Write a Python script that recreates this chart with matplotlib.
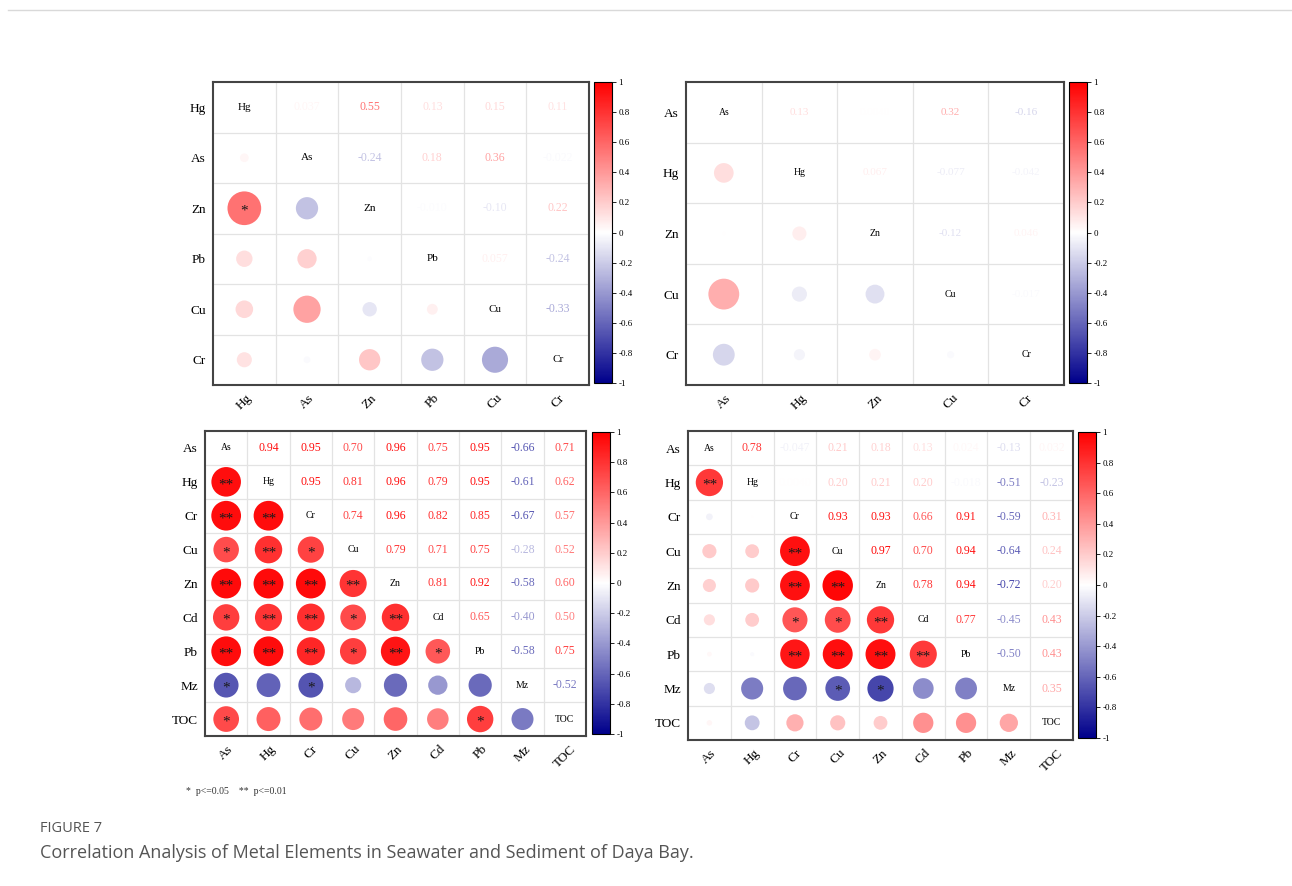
import numpy as np
import matplotlib
matplotlib.use('Agg')
import matplotlib.pyplot as plt
from matplotlib.colors import LinearSegmentedColormap, Normalize
from matplotlib.lines import Line2D

W, H = 1292, 886

# seawater (top-left): upper triangle, row by row
sw1_labels = ['Hg', 'As', 'Zn', 'Pb', 'Cu', 'Cr']
sw1_upper = [0.037, 0.55, 0.13, 0.15, 0.11,
             -0.24, 0.18, 0.36, -0.022,
             -0.010, -0.10, 0.22,
             0.057, -0.24,
             -0.33]
sw1_stars = {('Zn', 'Hg'): '*'}

# seawater (top-right)
sw2_labels = ['As', 'Hg', 'Zn', 'Cu', 'Cr']
sw2_upper = [0.13, 0.004, 0.32, -0.16,
             0.067, -0.077, -0.042,
             -0.12, 0.046,
             -0.017]
sw2_stars = {}

# sediment (bottom-left)
sd1_labels = ['As', 'Hg', 'Cr', 'Cu', 'Zn', 'Cd', 'Pb', 'Mz', 'TOC']
sd1_upper = [0.94, 0.95, 0.70, 0.96, 0.75, 0.95, -0.66, 0.71,
             0.95, 0.81, 0.96, 0.79, 0.95, -0.61, 0.62,
             0.74, 0.96, 0.82, 0.85, -0.67, 0.57,
             0.79, 0.71, 0.75, -0.28, 0.52,
             0.81, 0.92, -0.58, 0.60,
             0.65, -0.40, 0.50,
             -0.58, 0.75,
             -0.52]
sd1_stars = {('Hg', 'As'): '**', ('Cr', 'As'): '**', ('Cr', 'Hg'): '**',
             ('Cu', 'As'): '*', ('Cu', 'Hg'): '**', ('Cu', 'Cr'): '*',
             ('Zn', 'As'): '**', ('Zn', 'Hg'): '**', ('Zn', 'Cr'): '**', ('Zn', 'Cu'): '**',
             ('Cd', 'As'): '*', ('Cd', 'Hg'): '**', ('Cd', 'Cr'): '**', ('Cd', 'Cu'): '*',
             ('Cd', 'Zn'): '**',
             ('Pb', 'As'): '**', ('Pb', 'Hg'): '**', ('Pb', 'Cr'): '**', ('Pb', 'Cu'): '*',
             ('Pb', 'Zn'): '**', ('Pb', 'Cd'): '*',
             ('Mz', 'As'): '*', ('Mz', 'Cr'): '*',
             ('TOC', 'As'): '*', ('TOC', 'Pb'): '*'}

# sediment (bottom-right)
sd2_labels = ['As', 'Hg', 'Cr', 'Cu', 'Zn', 'Cd', 'Pb', 'Mz', 'TOC']
sd2_upper = [0.78, -0.047, 0.21, 0.18, 0.13, 0.024, -0.13, 0.032,
             0.004, 0.20, 0.21, 0.20, -0.018, -0.51, -0.23,
             0.93, 0.93, 0.66, 0.91, -0.59, 0.31,
             0.97, 0.70, 0.94, -0.64, 0.24,
             0.78, 0.94, -0.72, 0.20,
             0.77, -0.45, 0.43,
             -0.50, 0.43,
             0.35]
sd2_stars = {('Hg', 'As'): '**', ('Cu', 'Cr'): '**', ('Zn', 'Cr'): '**', ('Zn', 'Cu'): '**',
             ('Cd', 'Cr'): '*', ('Cd', 'Cu'): '*', ('Cd', 'Zn'): '**',
             ('Pb', 'Cr'): '**', ('Pb', 'Cu'): '**', ('Pb', 'Zn'): '**', ('Pb', 'Cd'): '**',
             ('Mz', 'Cu'): '*', ('Mz', 'Zn'): '*'}

cmap = LinearSegmentedColormap.from_list('corr', ['#00008b', '#ffffff', '#ff0000'])
norm = Normalize(-1, 1)
SERIF = 'Liberation Serif'
CB_TICKS = [-1, -0.8, -0.6, -0.4, -0.2, 0, 0.2, 0.4, 0.6, 0.8, 1]


def full_matrix(labels, upper):
    n = len(labels)
    m = np.eye(n)
    k = 0
    for i in range(n):
        for j in range(i + 1, n):
            m[i, j] = m[j, i] = upper[k]
            k += 1
    return m


def px_axes(fig, left, top, right, bottom):
    return fig.add_axes([left / W, 1 - bottom / H, (right - left) / W, (bottom - top) / H])


def draw_panel(fig, box, cbox, labels, upper, stars, lab_fs, val_fs, diag_fs):
    m = full_matrix(labels, upper)
    n = len(labels)
    ax = px_axes(fig, *box)
    ax.set_xlim(-0.5, n - 0.5)
    ax.set_ylim(n - 0.5, -0.5)
    cell_h = (box[3] - box[1]) / n
    cell_px = min((box[2] - box[0]) / n, cell_h)
    for k in range(1, n):
        ax.axhline(k - 0.5, color='#e3e3e3', lw=0.9, zorder=0)
        ax.axvline(k - 0.5, color='#e3e3e3', lw=0.9, zorder=0)
    star_dy = 3.0 / cell_h
    xs, ys, ss, cs = [], [], [], []
    for i in range(n):
        for j in range(n):
            r = m[i, j]
            if i == j:
                ax.text(j, i, labels[i], ha='center', va='center', fontsize=diag_fs,
                        family=SERIF, color='black')
            elif j > i:
                ax.text(j, i, f'{r:#.2g}', ha='center', va='center', fontsize=val_fs,
                        family=SERIF, color=cmap(norm(r)))
            else:
                d_pt = 0.9 * np.sqrt(abs(r)) * cell_px * 72 / 100
                xs.append(j)
                ys.append(i)
                ss.append(d_pt ** 2)
                cs.append(cmap(norm(r)))
                st = stars.get((labels[i], labels[j]))
                if st:
                    ax.text(j, i + star_dy, st, ha='center', va='center', fontsize=11,
                            family=SERIF, color='#1a1a1a', zorder=4)
    ax.scatter(xs, ys, s=ss, c=cs, linewidths=0, zorder=3)
    ax.set_xticks(range(n))
    ax.set_yticks(range(n))
    ax.set_xticklabels(labels, rotation=45, ha='center', va='top', family=SERIF, fontsize=lab_fs)
    ax.set_yticklabels(labels, family=SERIF, fontsize=lab_fs)
    ax.tick_params(length=0, pad=5)
    for sp in ax.spines.values():
        sp.set_color('#444444')
        sp.set_linewidth(1.5)

    cax = px_axes(fig, *cbox)
    sm = plt.cm.ScalarMappable(norm=norm, cmap=cmap)
    cb = fig.colorbar(sm, cax=cax, ticks=CB_TICKS)
    cb.ax.set_yticklabels([f'{t:g}' for t in CB_TICKS], family=SERIF, fontsize=6.5)
    cb.ax.tick_params(length=3, width=0.6, pad=1.5)
    cb.outline.set_linewidth(0.8)


fig = plt.figure(figsize=(W / 100, H / 100), dpi=100)

draw_panel(fig, (213, 82, 589, 385), (594, 82, 612, 383), sw1_labels, sw1_upper, sw1_stars, 9.5, 8.5, 8)
draw_panel(fig, (686, 82, 1064, 385), (1069, 82, 1087, 383), sw2_labels, sw2_upper, sw2_stars, 9.5, 8, 7)
draw_panel(fig, (205, 431, 586, 736), (592, 432, 610, 734), sd1_labels, sd1_upper, sd1_stars, 9.5, 8.5, 7)
draw_panel(fig, (688, 431, 1073, 740), (1078, 432, 1096, 738), sd2_labels, sd2_upper, sd2_stars, 9.5, 8.5, 7)

fig.add_artist(Line2D([8 / W, 1], [1 - 10 / H, 1 - 10 / H], color='#d9d9d9', lw=1))
fig.text(186 / W, 1 - 792 / H, '*  p<=0.05    **  p<=0.01', family=SERIF, fontsize=7,
         va='center', color='#333333')
fig.text(40 / W, 1 - 829 / H, 'FIGURE 7', family='Open Sans', fontsize=10.5,
         va='center', color='#555555')
fig.text(40 / W, 1 - 853 / H, 'Correlation Analysis of Metal Elements in Seawater and Sediment of Daya Bay.',
         family='Open Sans', fontsize=13, va='center', color='#555555')

fig.savefig('out.png', dpi=100)
